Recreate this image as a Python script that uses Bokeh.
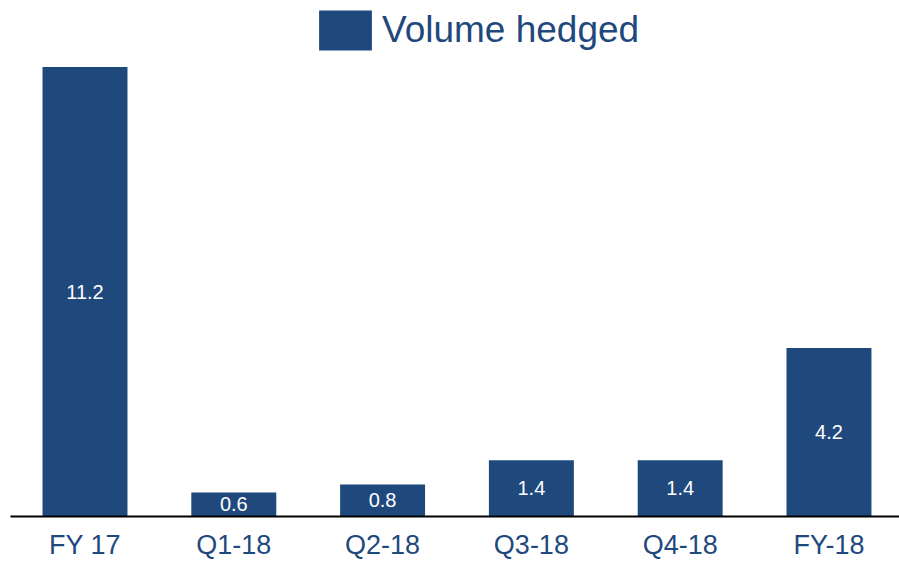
from bokeh.plotting import figure
from bokeh.models import ColumnDataSource, Range1d, FixedTicker, Legend, LegendItem, LabelSet
from bokeh.core.properties import value
from bokeh.embed import file_html
from bokeh.resources import INLINE

categories = ["FY 17", "Q1-18", "Q2-18", "Q3-18", "Q4-18", "FY-18"]
volume_hedged = [11.2, 0.6, 0.8, 1.4, 1.4, 4.2]
series_name = "Volume hedged"

BAR = "#1F497D"
FONT = "Liberation Sans"

xs = list(range(len(categories)))
src = ColumnDataSource(dict(
    x=xs,
    top=volume_hedged,
    mid=[v / 2 for v in volume_hedged],
    lab=[f"{v:.1f}" for v in volume_hedged],
))

p = figure(width=899, height=562, output_backend="svg", toolbar_location=None,
           x_range=Range1d(-0.5007, 5.474), y_range=Range1d(0, 12.86),
           min_border_left=10, min_border_right=0, min_border_top=0, min_border_bottom=45,
           y_axis_location=None)
p.outline_line_color = None
p.xgrid.visible = False
p.ygrid.visible = False
p.background_fill_color = "white"
p.border_fill_color = "white"

r = p.vbar(x="x", top="top", bottom=0, width=0.571, source=src, fill_color=BAR, line_color=None)

labels = LabelSet(x="x", y="mid", text="lab", source=src, text_align="center",
                  text_baseline="middle", text_color="white", text_font=value(FONT),
                  text_font_size="20px")
p.add_layout(labels)

ax = p.xaxis[0]
ax.ticker = FixedTicker(ticks=xs)
ax.major_label_overrides = {i: c for i, c in enumerate(categories)}
ax.major_tick_line_color = None
ax.minor_tick_line_color = None
ax.axis_line_color = "black"
ax.axis_line_width = 2
ax.major_label_text_font = FONT
ax.major_label_text_font_size = "27px"
ax.major_label_text_color = BAR
ax.major_label_standoff = 7

legend = Legend(items=[LegendItem(label=series_name, renderers=[r])],
                location=(302, 461), orientation="horizontal",
                glyph_width=66, glyph_height=50, label_standoff=4,
                label_text_font=FONT, label_text_font_size="37px",
                label_text_color=BAR, padding=0, margin=0, spacing=0,
                border_line_color=None, background_fill_alpha=0)
p.add_layout(legend)

open("out.html", "w").write(file_html(p, INLINE))
